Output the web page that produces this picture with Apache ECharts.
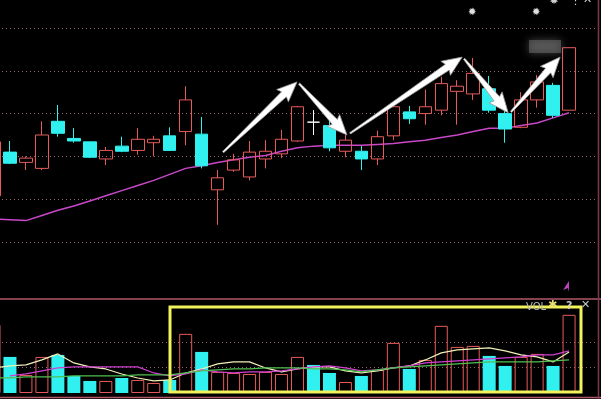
<!DOCTYPE html>
<html><head><meta charset="utf-8">
<script src="https://cdn.jsdelivr.net/npm/echarts@6/dist/echarts.min.js"></script>
<style>html,body{margin:0;padding:0;background:#000;overflow:hidden}#c{width:601px;height:399px;}</style>
</head><body><div id="c"></div>
<script>
// ---- data ----
const categories = ['D01','D02','D03','D04','D05','D06','D07','D08','D09','D10','D11','D12','D13','D14','D15','D16','D17','D18','D19','D20','D21','D22','D23','D24','D25','D26','D27','D28','D29','D30','D31','D32','D33','D34','D35','D36','D37'];
// [open, close, low, high]
const ohlc = [
 [10.54,11.17,10.49,11.25],[11.05,10.92,10.91,11.18],[10.93,10.98,10.84,11.00],[10.86,11.25,10.84,11.41],
 [11.41,11.27,11.23,11.60],[11.21,11.18,11.16,11.33],[11.17,10.99,10.98,11.17],[10.97,11.07,10.90,11.11],
 [11.12,11.06,11.05,11.23],[11.07,11.20,11.02,11.33],[11.16,11.20,11.00,11.24],[11.24,11.07,11.07,11.34],
 [11.29,11.66,11.13,11.82],[11.26,10.89,10.86,11.46],[10.61,10.75,10.20,10.84],[10.84,10.96,10.82,11.03],
 [10.76,11.05,10.72,11.18],[10.97,11.06,10.86,11.19],[11.03,11.20,10.98,11.31],[11.18,11.58,11.17,11.59],
 [11.40,11.40,11.25,11.54],[11.36,11.10,11.06,11.46],[11.06,11.19,10.99,11.25],[11.06,10.97,10.84,11.12],
 [10.97,11.23,10.90,11.30],[11.24,11.58,11.19,11.60],[11.52,11.44,11.38,11.59],[11.50,11.58,11.37,11.78],
 [11.54,11.85,11.48,11.93],[11.76,11.82,11.37,11.89],[11.73,11.97,11.66,12.15],[11.79,11.54,11.51,11.94],
 [11.50,11.32,11.16,11.55],[11.34,11.66,11.33,11.75],[11.66,11.87,11.57,11.95],[11.83,11.48,11.45,11.86],
 [11.54,12.27,11.54,12.27]
];
const priceMA = [10.27,10.26,10.25,10.31,10.37,10.42,10.48,10.54,10.60,10.66,10.72,10.79,10.86,10.89,10.93,10.96,10.99,11.01,11.06,11.10,11.12,11.13,11.13,11.13,11.14,11.15,11.17,11.19,11.22,11.25,11.29,11.33,11.33,11.36,11.39,11.45,11.51];
const volumes = [26670,14120,7060,14120,14900,6670,4710,4710,5880,5100,3920,5100,23140,16080,8240,7840,7450,8240,7450,14120,10980,7840,4310,6670,9020,19610,9410,12940,26280,18040,18430,14510,10590,14120,15300,10590,30590];
const volMA5 = [9800,10590,10980,12940,15300,11770,10200,9410,7450,5880,4710,5100,7840,9410,11370,12160,12160,9800,8240,9410,10200,10200,8630,7840,8630,9800,10590,12940,15690,16860,17260,17650,16470,14900,14120,12160,16080];
const volMA10 = [null,6670,7450,8630,9800,10200,10200,10200,10200,10200,7840,6670,7450,9020,8240,7840,8240,8240,8630,9410,10200,10590,9800,8630,9020,9800,10590,11770,12160,12550,12940,13330,13730,14120,14900,14900,16470];
const volMA20 = [5880,5880,6280,6280,6280,6670,6670,6670,6670,7060,7060,7060,7840,8630,9020,9410,9410,9800,9800,9800,9410,9410,9020,8240,9020,9800,10200,10590,10980,11370,11770,12160,12160,12160,12160,12550,12940];
const priceLines = [10, 10.5, 11, 11.5, 12, 12.5];
const volLines = [10000, 20000];
// arrows in data coords: [catIndex, price] -> [catIndex, price]
const arrows = [
 [[14.34,11.05],[18.97,11.87]],
 [[19.10,11.85],[22.10,11.25]],
 [[22.29,11.27],[29.31,12.16]],
 [[29.43,12.14],[32.19,11.51]],
 [[32.37,11.52],[35.44,12.16]]
];

const RED = '#e85a5a', CYAN = '#30f0f0', GRID = '#8c6a6a', NONE = 'rgba(0,0,0,0)';
const chart = echarts.init(document.getElementById('c'), null, {renderer:'canvas'});

const candleData = ohlc.map(d => d[0] === d[1]
  ? {value: d, itemStyle: {color:'#ffffff', color0:'#ffffff', borderColor:'#ffffff', borderColor0:'#ffffff'}}
  : d);
const volData = volumes.map((v, i) => {
  const up = ohlc[i][1] > ohlc[i][0];
  return {value: v, itemStyle: up ? {color: NONE, borderColor: RED, borderWidth: 1} : {color: CYAN, borderWidth: 0}};
});
const volInterval = volLines[1] - volLines[0];
const volMax = 36000;
// split line colours: only the volLines ticks are drawn
const volTickColors = [];
for (let t = 0; t <= volMax; t += volInterval) volTickColors.push(volLines.includes(t) ? GRID : NONE);
volTickColors.push(NONE);

const gridLeft = -14, gridWidth = 623;
chart.setOption({
  backgroundColor: '#000',
  animation: false,
  grid: [
    {left: gridLeft, width: gridWidth, top: 28, height: 214, outerBoundsMode: 'none', containLabel: false},
    {left: gridLeft, width: gridWidth, top: 301, height: 92, outerBoundsMode: 'none', containLabel: false}
  ],
  xAxis: [
    {type:'category', gridIndex:0, data: categories, max: 38, show:false, boundaryGap:true},
    {type:'category', gridIndex:1, data: categories, max: 38, show:false, boundaryGap:true},
    {type:'value', gridIndex:0, min:-0.5, max:38.5, show:false}
  ],
  yAxis: [
    {type:'value', gridIndex:0, min: priceLines[0], max: priceLines[priceLines.length-1], interval: 0.5,
     axisLine:{show:false}, axisTick:{show:false}, axisLabel:{show:false},
     splitLine:{show:true, lineStyle:{color: GRID, type:[1,3], width:1}}},
    {type:'value', gridIndex:1, min:0, max: volMax, interval: volInterval,
     axisLine:{show:false}, axisTick:{show:false}, axisLabel:{show:false},
     splitLine:{show:true, lineStyle:{color: volTickColors, type:[1,3], width:1}}}
  ],
  series: [
    {type:'line', xAxisIndex:0, yAxisIndex:0, data: priceMA, showSymbol:false, smooth:false,
     lineStyle:{color:'#c848c8', width:1.5}, z:1},
    {type:'candlestick', xAxisIndex:0, yAxisIndex:0, data: candleData, barWidth: 13,
     itemStyle:{color: NONE, color0: CYAN, borderColor: RED, borderColor0: CYAN, borderWidth:1}, z:3},
    {type:'bar', xAxisIndex:1, yAxisIndex:1, data: volData, barWidth: 13, z:2},
    {type:'line', xAxisIndex:1, yAxisIndex:1, data: volMA5, showSymbol:false, lineStyle:{color:'#f2f0b8', width:1.2}, z:4},
    {type:'line', xAxisIndex:1, yAxisIndex:1, data: volMA10, showSymbol:false, lineStyle:{color:'#d040d0', width:1.2}, z:4},
    {type:'line', xAxisIndex:1, yAxisIndex:1, data: volMA20, showSymbol:false, lineStyle:{color:'#50c050', width:1.2}, z:4}
  ]
});

function arrowShape(p0, p1) {
  const dx = p1[0]-p0[0], dy = p1[1]-p0[1];
  const L = Math.hypot(dx, dy), ux = dx/L, uy = dy/L, nx = -uy, ny = ux;
  const loc = [[0,-0.8],[L-18,-3.5],[L-20,-8.5],[L,0],[L-20,8.5],[L-18,3.5],[0,0.8]];
  return loc.map(([a,b]) => [p0[0]+ux*a+nx*b, p0[1]+uy*a+ny*b]);
}
const toPx = p => chart.convertToPixel({xAxisIndex:2, yAxisIndex:0}, p);
const g = [];
arrows.forEach(([a,b]) => {
  g.push({type:'polygon', z:100, shape:{points: arrowShape(toPx(a), toPx(b))},
    style:{fill:'#ffffff', stroke:'#9a9a9a', lineWidth:0.8}});
});
// panel frame / decorations
g.push({type:'line', z:90, shape:{x1:0,y1:299,x2:601,y2:299}, style:{stroke:'#b05868', lineWidth:1.5}});
g.push({type:'line', z:90, shape:{x1:0,y1:397.5,x2:601,y2:397.5}, style:{stroke:'#b05868', lineWidth:1.5}});
g.push({type:'line', z:90, shape:{x1:598.5,y1:0,x2:598.5,y2:399}, style:{stroke:'#803848', lineWidth:1.5}});
g.push({type:'rect', z:110, shape:{x:170,y:307,width:411,height:85}, style:{fill:'none', stroke:'#f2f25a', lineWidth:3}});
g.push({type:'text', z:120, x:526, y:302, style:{text:'VOL', fill:'#b8b8b8', font:'10px "DejaVu Sans"'}});
g.push({type:'text', z:120, x:548, y:300, style:{text:'✱', fill:'#e8e070', font:'11px "DejaVu Sans"'}});
g.push({type:'text', z:120, x:566, y:301, style:{text:'?', fill:'#c8c8c8', font:'bold 11px "DejaVu Sans"'}});
g.push({type:'text', z:120, x:581, y:300, style:{text:'✕', fill:'#c8c8c8', font:'11px "DejaVu Sans"'}});
g.push({type:'polygon', z:100, shape:{points:[[569,281],[563,290],[568,288],[569,292]]}, style:{fill:'#c040c0'}});
g.push({type:'text', z:100, x:468, y:7, style:{text:'✹', fill:'#e0e0e0', font:'10px "DejaVu Sans"'}});
g.push({type:'text', z:100, x:532, y:7, style:{text:'✹', fill:'#e0e0e0', font:'10px "DejaVu Sans"'}});
g.push({type:'text', z:100, x:549, y:-5, style:{text:'✹', fill:'#d0d0d0', font:'12px "DejaVu Sans"'}});
g.push({type:'text', z:100, x:570, y:-4, style:{text:'⋮', fill:'#d0d0d0', font:'11px "DejaVu Sans"'}});
g.push({type:'text', z:100, x:583, y:-5, style:{text:'✕', fill:'#d0d0d0', font:'11px "DejaVu Sans"'}});
g.push({type:'rect', z:95, shape:{x:529,y:40,width:32,height:13}, style:{fill:'rgba(110,110,110,0.55)', shadowBlur:8, shadowColor:'rgba(150,150,150,0.8)'}});
chart.setOption({graphic: g});
</script></body></html>
